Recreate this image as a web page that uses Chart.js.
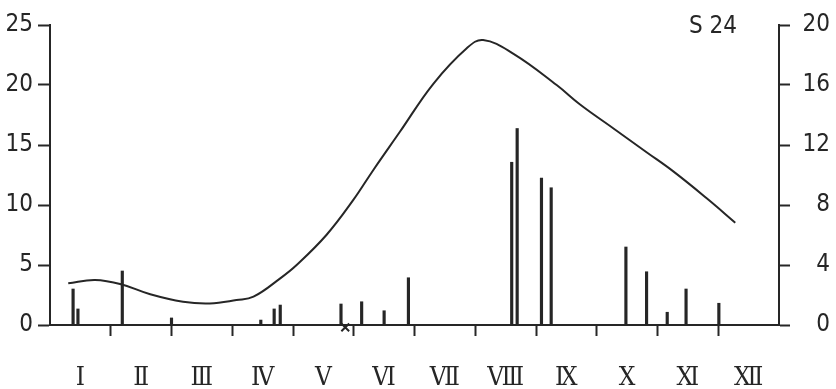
<!DOCTYPE html>
<html>
<head>
<meta charset="utf-8">
<script src="https://cdn.jsdelivr.net/npm/chart.js@4/dist/chart.umd.min.js"></script>
<style>
  body { margin: 0; background: #fff; }
  #wrap { width: 836px; height: 389px; }
</style>
</head>
<body>
<div id="wrap"><canvas id="s24Chart"></canvas></div>
<script>
// Monate (römische Ziffern)
const months = ['Ⅰ', 'Ⅱ', 'Ⅲ', 'Ⅳ', 'Ⅴ', 'Ⅵ', 'Ⅶ', 'Ⅷ', 'Ⅸ', 'Ⅹ', 'Ⅺ', 'Ⅻ'];

// Kurve (linke Achse), x in Monaten ab Jahresbeginn
const curveX = [0.30, 0.74, 1.17, 1.65, 2.19, 2.63, 3.07, 3.35, 3.79, 4.06, 4.55, 4.99, 5.32, 5.76, 6.31, 6.86, 7.13, 7.63, 8.34, 8.72, 9.27, 9.82, 10.26, 10.81, 11.28];
const curveY = [3.47, 3.75, 3.4, 2.56, 1.94, 1.8, 2.08, 2.36, 3.89, 5.0, 7.5, 10.4, 12.9, 16.1, 20.1, 23.06, 23.75, 22.6, 20.0, 18.4, 16.4, 14.4, 12.8, 10.56, 8.53];

// Einzelwerte (rechte Achse)
const barX = [0.38, 0.46, 1.19, 2.0, 3.47, 3.69, 3.79, 4.79, 5.13, 5.5, 5.9, 7.6, 7.69, 8.09, 8.25, 9.48, 9.82, 10.16, 10.47, 11.01];
const barY = [2.4, 1.07, 3.6, 0.47, 0.33, 1.07, 1.33, 1.4, 1.55, 0.95, 3.15, 10.85, 13.1, 9.8, 9.15, 5.2, 3.55, 0.85, 2.4, 1.45];

// Markierung x
const markX = [4.86];
const markY = [-0.2];

const leftTicks = [0, 5, 10, 15, 20, 25];
const rightTicks = [0, 4, 8, 12, 16, 20];

const ink = '#262626';
const numFamily = "'DejaVu Sans Condensed', 'DejaVu Sans', sans-serif";
const numFont = { family: numFamily, size: 24 };

const labelPlugin = {
    id: 'stationLabel',
    afterDraw(chart) {
        const c = chart.ctx;
        c.save();
        c.fillStyle = ink;
        c.font = '24px ' + numFamily;
        c.textAlign = 'right';
        c.textBaseline = 'alphabetic';
        c.fillText('S 24', chart.chartArea.right - 42, chart.chartArea.top + 8);
        c.restore();
    }
};

new Chart(document.getElementById('s24Chart'), {
    data: {
        datasets: [{
            type: 'line',
            data: curveX.map((x, i) => ({ x: x, y: curveY[i] })),
            xAxisID: 'x',
            yAxisID: 'y',
            borderColor: ink,
            borderWidth: 2,
            pointRadius: 0,
            tension: 0.4,
            fill: false
        },
        {
            type: 'bar',
            data: barX.map((x, i) => ({ x: x, y: barY[i] })),
            xAxisID: 'x',
            yAxisID: 'y2',
            backgroundColor: ink,
            barThickness: 2.5
        },
        {
            type: 'scatter',
            data: markX.map((x, i) => ({ x: x, y: markY[i] })),
            xAxisID: 'x',
            yAxisID: 'y',
            pointStyle: 'crossRot',
            pointRadius: 5.5,
            borderColor: ink,
            borderWidth: 2,
            clip: false
        }]
    },
    options: {
        responsive: true,
        maintainAspectRatio: false,
        animation: false,
        layout: { padding: { top: 25, right: 6, left: 0, bottom: 0 } },
        plugins: {
            legend: { display: false },
            tooltip: { enabled: false }
        },
        scales: {
            x: {
                type: 'linear',
                position: 'bottom',
                offset: false,
                min: 0,
                max: 12,
                ticks: { stepSize: 1, display: false },
                grid: {
                    offset: false,
                    drawOnChartArea: false,
                    tickLength: 11,
                    tickWidth: 2,
                    tickColor: ctx => (ctx.tick && ctx.tick.value > 0 && ctx.tick.value < 12) ? ink : 'rgba(0,0,0,0)'
                },
                border: { color: ink, width: 2 },
                afterFit: axis => { axis.height = 11; }
            },
            x2: {
                type: 'category',
                labels: months,
                position: 'bottom',
                offset: true,
                grid: { display: false },
                border: { display: false },
                ticks: { color: ink, padding: 19, font: { family: "'DejaVu Serif Condensed', 'DejaVu Serif', serif", size: 26 } },
                afterFit: axis => { axis.height = 53; axis.paddingLeft = 0; axis.paddingRight = 0; }
            },
            y: {
                position: 'left',
                min: 0,
                max: 25,
                afterBuildTicks: axis => { axis.ticks = leftTicks.map(v => ({ value: v })); },
                ticks: { color: ink, padding: 5, font: numFont },
                grid: { drawOnChartArea: false, tickLength: 12, tickWidth: 2, tickColor: ink },
                border: { color: ink, width: 2 },
                afterFit: axis => { axis.width = 50; axis.paddingTop = 0; axis.paddingBottom = 0; }
            },
            y2: {
                position: 'right',
                min: 0,
                max: 20,
                afterBuildTicks: axis => { axis.ticks = rightTicks.map(v => ({ value: v })); },
                ticks: { color: ink, padding: 17, crossAlign: 'far', font: numFont },
                grid: { drawOnChartArea: false, tickLength: 11, tickWidth: 2, tickColor: ink },
                border: { color: ink, width: 2 },
                afterFit: axis => { axis.width = 51; axis.paddingTop = 0; axis.paddingBottom = 0; }
            }
        }
    },
    plugins: [labelPlugin]
});
</script>
</body>
</html>
